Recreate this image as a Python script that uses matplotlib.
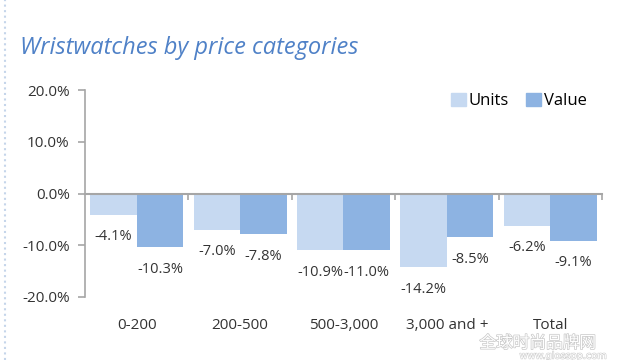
import numpy as np
import matplotlib.pyplot as plt
from matplotlib.lines import Line2D
from matplotlib.patches import Patch
from matplotlib.transforms import blended_transform_factory, offset_copy
import matplotlib.patheffects as pe

categories = ['0-200', '200-500', '500-3,000', '3,000 and +', 'Total']
units = [-4.1, -7.0, -10.9, -14.2, -6.2]
value = [-10.3, -7.8, -11.0, -8.5, -9.1]
yticks = [-20, -10, 0, 10, 20]

units_color = '#c6d9f1'
value_color = '#8db3e2'
text_color = '#333333'
axis_color = '#a6a6a6'

fig = plt.figure(figsize=(6.4, 3.6), dpi=100)
ax = fig.add_axes([0.1328, 0.175, 0.8078, 0.575])

x = np.arange(len(categories))
w = 0.45
ax.bar(x - w / 2, units, w, color=units_color, label='Units')
ax.bar(x + w / 2, value, w, color=value_color, label='Value')

# data labels below the bar ends
for xs, vals in ((x - w / 2, units), (x + w / 2, value)):
    for xi, v in zip(xs, vals):
        tr = offset_copy(ax.transData, fig=fig, x=0, y=-16, units='points')
        ax.text(xi, v, f'{v:.1f}%', transform=tr, ha='center', va='center',
                fontsize=10.5, color=text_color, family='Open Sans')

ax.set_xlim(-0.5, len(categories) - 0.5)
ax.set_ylim(-20, 20)
ax.set_yticks(yticks)
ax.set_yticklabels([f'{t:.1f}%' for t in yticks], fontsize=11, color=text_color,
                   family='Open Sans')

for s in ('top', 'right'):
    ax.spines[s].set_visible(False)
ax.spines['bottom'].set_position(('data', 0))
ax.spines['bottom'].set_color(axis_color)
ax.spines['bottom'].set_linewidth(1.5)
ax.spines['left'].set_color(axis_color)
ax.spines['left'].set_linewidth(1.2)
ax.tick_params(axis='y', direction='out', length=5, color=axis_color, width=1.2, pad=6)
ax.set_xticks([])
ax.set_xticks(np.arange(len(categories)) + 0.5, minor=True)
ax.tick_params(axis='x', which='minor', direction='out', length=4, color=axis_color,
               width=1.2, labelbottom=False)

# category labels under the plot
trans = blended_transform_factory(ax.transData, ax.transAxes)
for xi, c in zip(x, categories):
    ax.text(xi, -0.14, c, transform=trans, ha='center', va='center',
            fontsize=11, color=text_color, family='Open Sans')

handles = [Patch(color=units_color, label='Units'), Patch(color=value_color, label='Value')]
ax.legend(handles=handles, loc='upper right', bbox_to_anchor=(1.0, 1.06), ncol=2,
          frameon=False, handlelength=0.9, handleheight=0.9,
          handletextpad=0.2, columnspacing=1.0, prop={'family': 'Open Sans', 'size': 12})

fig.text(0.031, 0.867, 'Wristwatches by price categories', fontsize=17, style='italic',
         color='#4f81c7', family='Open Sans', va='center', ha='left')

# thin dotted frame line at the left edge
fig.add_artist(Line2D([0.008, 0.008], [0.0, 1.0], transform=fig.transFigure,
                      color='#c5d5ea', lw=1.5, ls=':'))

# watermark
fig.text(0.84, 0.046, '全球时尚品牌网', fontsize=12, color='white', ha='center',
         va='center', family=['Noto Sans CJK SC', 'DejaVu Sans'],
         path_effects=[pe.withStroke(linewidth=1.0, foreground='#c8c8c8')])
fig.text(0.88, 0.012, 'www.glosspp.com', fontsize=7, color='white', ha='center',
         va='center', family='DejaVu Sans',
         path_effects=[pe.withStroke(linewidth=0.8, foreground='#cccccc')])

fig.savefig('out.png', dpi=100)
